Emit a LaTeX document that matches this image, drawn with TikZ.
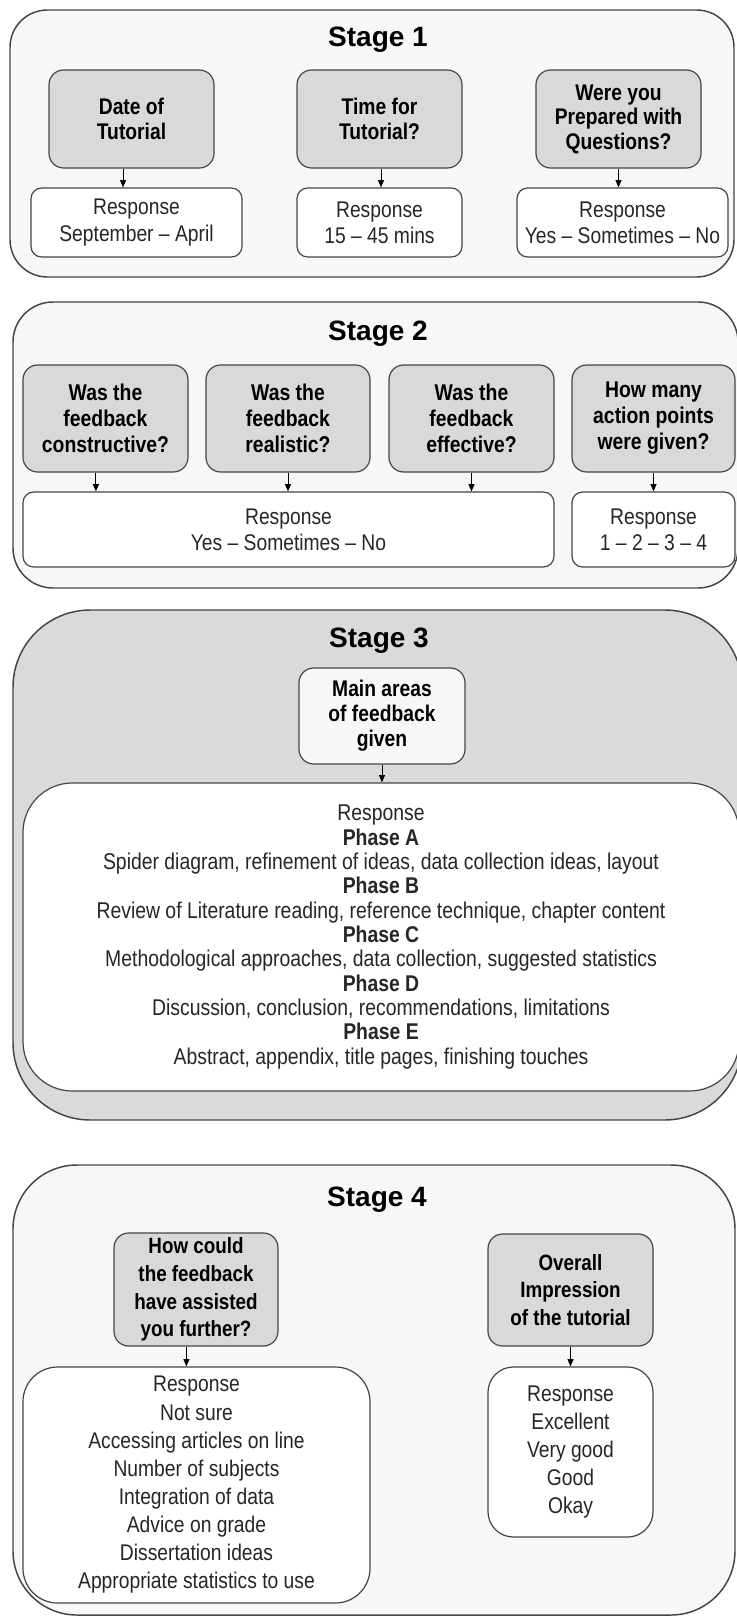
\documentclass[tikz,border=0pt]{standalone}
\usepackage{fontspec}
\setmainfont{Liberation Sans}
\newfontfamily\nf{Liberation Sans}[FakeStretch=0.85]
\usetikzlibrary{arrows.meta,calc}
\newcommand\fTitle{\bfseries\fontsize{21}{25}\selectfont}
\newcommand\fQa{\nf\bfseries\fontsize{17}{18.4}\selectfont}
\newcommand\fQb{\nf\bfseries\fontsize{17.1}{19.5}\selectfont}
\newcommand\fQc{\nf\bfseries\fontsize{17}{18.75}\selectfont}
\newcommand\fQd{\nf\bfseries\fontsize{16.6}{20.8}\selectfont}
\newcommand\fRa{\nf\fontsize{17}{19.6}\selectfont}
\newcommand\fRc{\nf\fontsize{17.1}{18.25}\selectfont}
\newcommand\fRd{\nf\fontsize{17}{21.1}\selectfont}
\newcommand\bx[7]{%
  \pgfmathsetmacro\bxcx{(#2+#4)/2}%
  \pgfmathsetmacro\bxcy{(#3+#5)/2}%
  \pgfmathsetmacro\bxw{(#4-#2)*0.75}%
  \pgfmathsetmacro\bxh{(#5-#3)*0.75}%
  \node[#6, minimum width=\bxw pt, minimum height=\bxh pt, inner sep=0pt] (#1) at (\bxcx,\bxcy) {#7};}
\definecolor{qgray}{HTML}{D9D9D9}
\definecolor{sgray}{HTML}{DADADA}
\definecolor{light}{HTML}{F7F7F7}
\definecolor{edge}{HTML}{454545}
\begin{document}
\begin{tikzpicture}[x=0.75pt,y=-0.75pt,
  stagebox/.style={draw=edge, line width=1.1pt, fill=light},
  qbox/.style={draw=edge, line width=0.9pt, fill=qgray, rounded corners=11pt, align=center, text=black},
  rbox/.style={draw=edge, line width=0.9pt, fill=white, rounded corners=8pt, align=center, text=black!85},
  arr/.style={-{Triangle[length=5.5pt,width=4.5pt]}, line width=0.75pt, draw=black},
  stagetitle/.style={font=\fTitle, anchor=base, inner sep=0pt, text=black}]
\useasboundingbox (0,0) rectangle (737,1620);
\fill[white] (0,0) rectangle (737,1620);

% ---------------- Stage 1
\bx{st1}{10}{10}{734}{277}{stagebox, rounded corners=28pt}{}
\node[stagetitle] (t1) at (378,47) {Stage 1};
\bx{g11}{49}{70}{214}{168}{qbox,font=\fQa}{Date of\\Tutorial}
\bx{g12}{297}{70}{462}{168}{qbox,font=\fQa}{Time for\\Tutorial?}
\bx{g13}{536}{70}{701}{168}{qbox,font=\fQa}{Were you\\Prepared with\\Questions?}
\bx{r11}{31}{188}{242}{257}{rbox,font=\fRa}{Response\\September – April}
\bx{r12}{297}{188}{462}{257}{rbox,font=\fRa}{Response\\15 – 45 mins}
\bx{r13}{517}{188}{728}{257}{rbox,font=\fRa}{Response\\Yes – Sometimes – No}
\draw[arr] ($(g11.south)+(-8.5,0)$) coordinate (a11) -- (a11 |- r11.north);
\draw[arr] ($(g12.south)+(1.5,0)$) coordinate (a12) -- (a12 |- r12.north);
\draw[arr] (g13.south) -- (g13.south |- r13.north);

% ---------------- Stage 2
\bx{st2}{13}{302}{738}{588}{stagebox, rounded corners=30pt}{}
\node[stagetitle] (t2) at (378,340) {Stage 2};
\bx{g21}{23}{365}{188}{472}{qbox,font=\fQb}{Was the\\feedback\\constructive?}
\bx{g22}{206}{365}{370}{472}{qbox,font=\fQb}{Was the\\feedback\\realistic?}
\bx{g23}{389}{365}{554}{472}{qbox,font=\fQb}{Was the\\feedback\\effective?}
\bx{g24}{572}{365}{735}{472}{qbox,font=\fQb}{How many\\action points\\were given?}
\bx{r21}{23}{492}{554}{567}{rbox,font=\fRa}{Response\\Yes – Sometimes – No}
\bx{r22}{572}{492}{735}{567}{rbox,font=\fRa}{Response\\1 – 2 – 3 – 4}
\draw[arr] ($(g21.south)+(-9.6,0)$) coordinate (a21) -- (a21 |- r21.north);
\draw[arr] (g22.south) -- (g22.south |- r21.north);
\draw[arr] (g23.south) -- (g23.south |- r21.north);
\draw[arr] (g24.south) -- (g24.south |- r22.north);

% ---------------- Stage 3
\bx{st3}{13}{610}{742}{1120}{stagebox, fill=sgray, rounded corners=58pt}{}
\node[stagetitle] (t3) at (379,647) {Stage 3};
\bx{m3}{299}{668}{465}{764}{qbox, fill=light, font=\fQc}{Main areas\\of feedback\\given}
\bx{r3}{23}{783}{739}{1091}{rbox, rounded corners=37pt, font=\fRc}{Response\\\textbf{Phase A}\\Spider diagram, refinement of ideas, data collection ideas, layout\\\textbf{Phase B}\\Review of Literature reading, reference technique, chapter content\\\textbf{Phase C}\\Methodological approaches, data collection, suggested statistics\\\textbf{Phase D}\\Discussion, conclusion, recommendations, limitations\\\textbf{Phase E}\\Abstract, appendix, title pages, finishing touches}
\draw[arr] (m3.south) -- (m3.south |- r3.north);

% ---------------- Stage 4
\bx{st4}{13}{1165}{735}{1615}{stagebox, rounded corners=48pt}{}
\node[stagetitle] (t4) at (377,1206) {Stage 4};
\bx{g41}{114}{1233}{278}{1346}{qbox,font=\fQd}{How could\\the feedback\\have assisted\\you further?}
\bx{g42}{488}{1234}{653}{1346}{qbox,font=\fQd}{Overall\\Impression\\of the tutorial}
\bx{r41}{23}{1367}{370}{1603}{rbox, rounded corners=26pt, font=\fRd}{Response\\Not sure\\Accessing articles on line\\Number of subjects\\Integration of data\\Advice on grade\\Dissertation ideas\\Appropriate statistics to use}
\bx{r42}{488}{1367}{653}{1537}{rbox, rounded corners=19pt, font=\fRd}{Response\\Excellent\\Very good\\Good\\Okay}
\draw[arr] ($(g41.south)+(-9.6,0)$) coordinate (a41) -- (a41 |- r41.north);
\draw[arr] (g42.south) -- (g42.south |- r42.north);
\end{tikzpicture}
\end{document}
